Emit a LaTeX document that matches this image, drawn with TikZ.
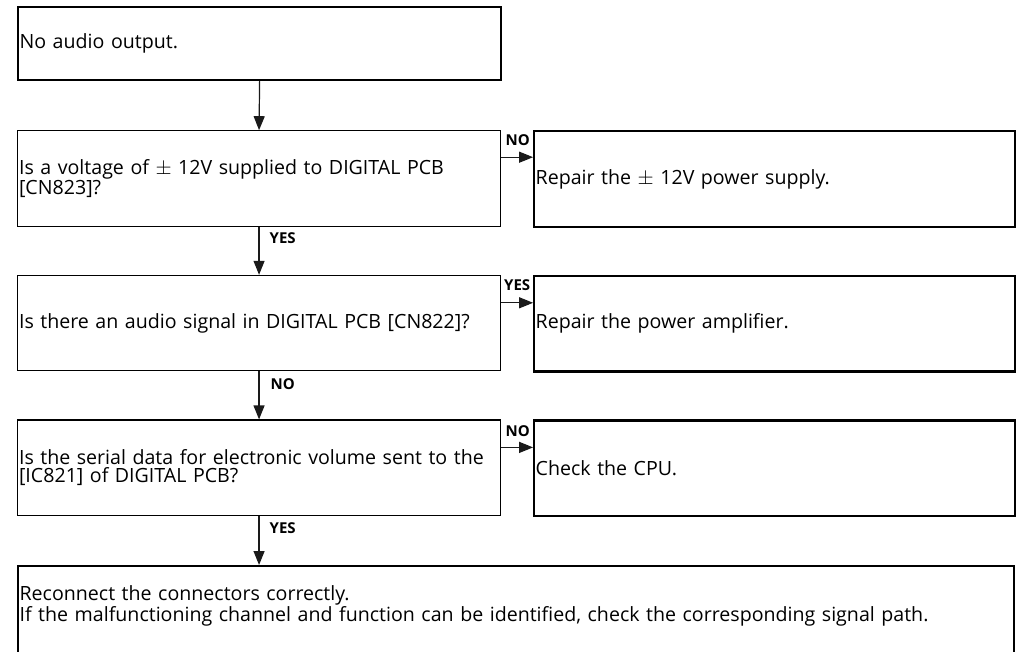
\documentclass[tikz,border=0pt]{standalone}
\usepackage{fontspec}
\setmainfont{Open Sans}
\usepackage{tikz}
\usetikzlibrary{arrows.meta,positioning}
\definecolor{fcInk}{HTML}{000000}
\definecolor{fcLine}{HTML}{1A1A1A}
\tikzset{
  fcbox/.style={draw=fcInk, anchor=north west, align=left, inner xsep=1.5pt, inner ysep=0pt,
                font=\fontsize{19.6}{18}\selectfont, text=fcInk},
  fcthin/.style={fcbox, line width=1.1pt},
  fcthick/.style={fcbox, line width=2.2pt},
  farr/.style={-{Triangle[length=14pt,width=11pt]}, line width=1.2pt, draw=fcLine},
  fclabel/.style={font=\fontsize{15}{15}\selectfont\bfseries, text=fcInk, inner sep=0pt},
}

\begin{document}
\begin{tikzpicture}[x=1pt, y=-1pt]
    \useasboundingbox (0,0) rectangle (1022,652);
    \node[fcthick, text width=480pt, minimum height=73pt] (start) at (17,6) {No audio output.};
    \node[fcthin, text width=480pt, minimum height=95.5pt, below=49pt of start.south west, anchor=north west] (q1)
        {Is a voltage of $\pm$ 12V supplied to DIGITAL PCB\\{}[CN823]?};
    \node[fcthick, text width=478pt, minimum height=95.5pt, right=32pt of q1.north east, anchor=north west] (r1)
        {Repair the $\pm$ 12V power supply.};
    \node[fcthin, text width=480pt, minimum height=95.5pt, below=48pt of q1.south west, anchor=north west] (q2)
        {Is there an audio signal in DIGITAL PCB [CN822]?};
    \node[fcthick, text width=478pt, minimum height=95.5pt, right=32pt of q2.north east, anchor=north west] (r2)
        {Repair the power amplifier.};
    \node[fcthin, text width=480pt, minimum height=95.5pt, below=48pt of q2.south west, anchor=north west] (q3)
        {Is the serial data for electronic volume sent to the\\{}[IC821] of DIGITAL PCB?};
    \node[fcthick, text width=478pt, minimum height=95.5pt, right=32pt of q3.north east, anchor=north west] (r3)
        {Check the CPU.};
    \node[fcthick, text width=993pt, minimum height=110pt, text depth=56pt, below=49pt of q3.south west, anchor=north west] (fix)
        {Reconnect the connectors correctly.\\If the malfunctioning channel and function can be identified, check the corresponding signal path.};

    % main path
    \draw[farr] (start.south) -- (q1.north);
    \draw[farr] (q1.south) -- (q2.north)
        node[fclabel, pos=0, anchor=north west, xshift=10pt, yshift=-5.5pt] {YES};
    \draw[farr] (q2.south) -- (q3.north)
        node[fclabel, pos=0, anchor=north west, xshift=11pt, yshift=-6.5pt] {NO};
    \draw[farr] (q3.south) -- (q3.south |- fix.north)
        node[fclabel, pos=0, anchor=north west, xshift=10pt, yshift=-6.5pt] {YES};

    % side branches
    \draw[farr] ([yshift=-27pt]q1.north east) -- ([yshift=-27pt]r1.north west)
        node[fclabel, pos=0, anchor=base west, xshift=4pt, yshift=12pt] {NO};
    \draw[farr] ([yshift=-28pt]q2.north east) -- ([yshift=-28pt]r2.north west)
        node[fclabel, pos=0, anchor=base west, xshift=2.5pt, yshift=12pt] {YES};
    \draw[farr] ([yshift=-28pt]q3.north east) -- ([yshift=-28pt]r3.north west)
        node[fclabel, pos=0, anchor=base west, xshift=4pt, yshift=11pt] {NO};
\end{tikzpicture}
\end{document}
